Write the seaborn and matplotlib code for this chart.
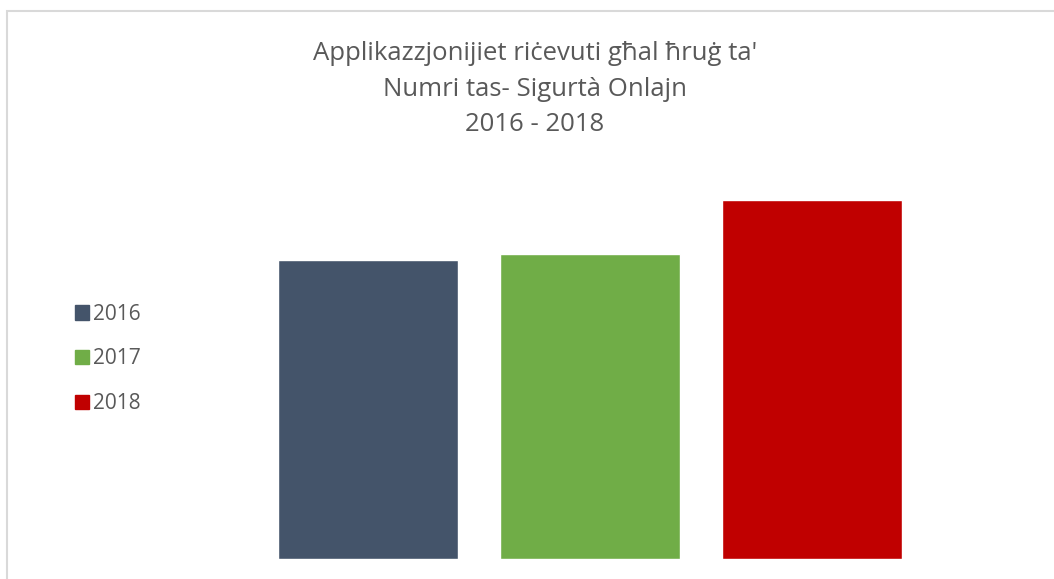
import numpy as np
import pandas as pd
import seaborn as sns
import matplotlib.pyplot as plt
from matplotlib.patches import Rectangle

years = ["2016", "2017", "2018"]
applications = [2990, 3050, 3590]
colours = ["#44546a", "#70ad47", "#c00000"]
title = "Applikazzjonijiet riċevuti għal ħruġ ta'\nNumri tas- Sigurtà Onlajn\n2016 - 2018"

sns.set_theme(style="white")
plt.rcParams['font.family'] = ['Open Sans', 'DejaVu Sans']

df = pd.DataFrame({"year": years, "applications": applications})

fig = plt.figure(figsize=(10.54, 5.79), dpi=100)
ax = fig.add_axes([256.5 / 1054, 20 / 579, 667 / 1054, 400 / 579])
sns.barplot(data=df, x="year", y="applications", hue="year", palette=colours,
            width=0.81, dodge=False, saturation=1, legend=False, ax=ax)
ax.set_xlim(-0.5, 2.5)
ax.set_ylim(0, 4000)
ax.axis("off")

# frame round the chart
fig.patches.append(Rectangle((7 / 1054, -0.1), 1.2, (579 - 11) / 579 + 0.1,
                             transform=fig.transFigure, fill=False,
                             edgecolor="#d9d9d9", linewidth=1.5))

fig.text(535 / 1054, 1 - 89 / 579, title, ha="center", va="center",
         fontsize=18.5, color="#595959", linespacing=1.55)

# legend on the left
handles = [Rectangle((0, 0), 1, 1, color=c) for c in colours]
leg = fig.legend(handles, years, loc="center left",
                 bbox_to_anchor=(56 / 1054, 1 - 359 / 579), frameon=False,
                 fontsize=15, labelcolor="#595959", handlelength=0.7,
                 handleheight=0.7, handletextpad=0.2, labelspacing=1.15)

fig.savefig("out.png", dpi=100)
